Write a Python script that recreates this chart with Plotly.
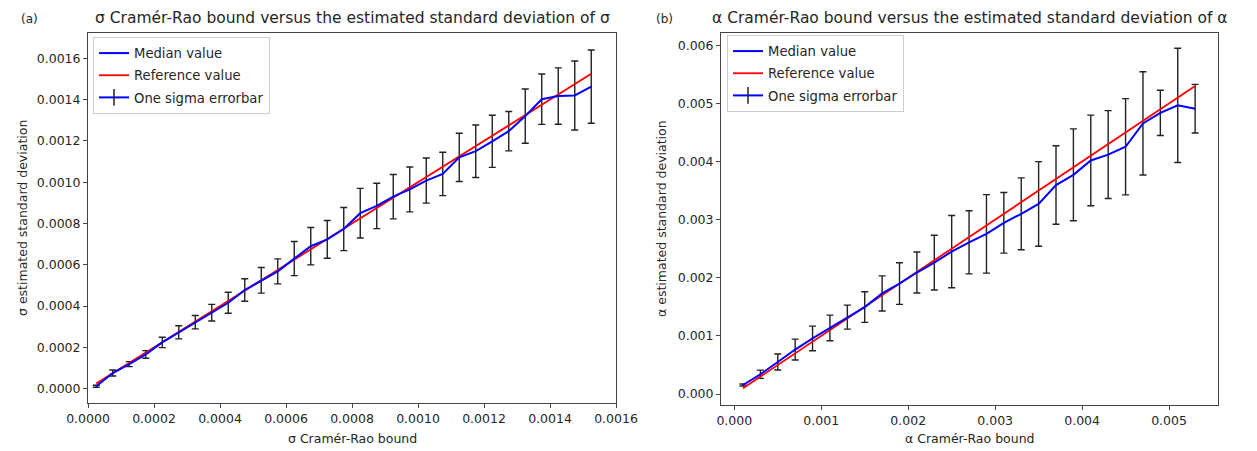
import plotly.graph_objects as go

# ---------------- data ----------------
# Panel (a): sigma
sigma_crb = [0.000025 + 0.00005 * k for k in range(31)]
sigma_median = [0.000012, 0.000076, 0.000119, 0.000166, 0.000224, 0.000273, 0.000322,
                0.000368, 0.000416, 0.000478, 0.000525, 0.000568, 0.000630, 0.000690,
                0.000723, 0.000773, 0.000850, 0.000885, 0.000930, 0.000965, 0.001008,
                0.001040, 0.001120, 0.001150, 0.001198, 0.001247, 0.001320, 0.001402,
                0.001417, 0.001420, 0.001463]
sigma_err = [0.000005, 0.0000146, 0.0000122, 0.0000185, 0.000025, 0.000032, 0.0000325,
             0.0000405, 0.000051, 0.0000545, 0.000062, 0.0000605, 0.0000825, 0.0000905,
             0.0000915, 0.0001045, 0.000120, 0.000110, 0.0001075, 0.0001085, 0.0001095,
             0.000105, 0.000117, 0.000127, 0.000126, 0.0000955, 0.0001315, 0.000122,
             0.0001365, 0.000167, 0.0001775]
sigma_ref = list(sigma_crb)

# Panel (b): alpha
alpha_crb = [0.0001 + 0.0002 * k for k in range(27)]
alpha_median = [0.000155, 0.000340, 0.000550, 0.000765, 0.000956, 0.001137, 0.001323,
                0.001495, 0.001730, 0.001900, 0.002090, 0.002260, 0.002450, 0.002610,
                0.002755, 0.002945, 0.003100, 0.003270, 0.003595, 0.003770, 0.004018,
                0.004118, 0.004253, 0.004655, 0.004835, 0.004965, 0.004908]
alpha_err = [0.000018, 0.000071, 0.000138, 0.000180, 0.000212, 0.000220, 0.000206,
             0.000263, 0.000303, 0.000358, 0.000352, 0.000472, 0.000621, 0.000543,
             0.000675, 0.000521, 0.000618, 0.000727, 0.000676, 0.000790, 0.000779,
             0.000756, 0.000828, 0.000888, 0.000389, 0.000982, 0.000418]
alpha_ref = list(alpha_crb)

sigma_xticks = [0.0002 * i for i in range(9)]
sigma_yticks = [0.0002 * i for i in range(9)]
alpha_xticks = [0.001 * i for i in range(6)]
alpha_yticks = [0.001 * i for i in range(7)]

# ---------------- figure ----------------
W, H = 1257, 451
FONT = "DejaVu Sans"
TXT = "#262626"
BLUE = "#0000ff"
RED = "#ff0000"

fig = go.Figure()


def add_panel(x, med, err, ref, xa, ya, legend):
    # error bars
    fig.add_trace(go.Scatter(
        x=x, y=med, mode="markers", marker=dict(size=0.1, color="rgba(0,0,0,0)"),
        error_y=dict(type="data", array=err, visible=True, color="#222222",
                     thickness=1.4, width=3.5),
        xaxis=xa, yaxis=ya, showlegend=False, hoverinfo="skip"))
    # reference line
    fig.add_trace(go.Scatter(
        x=x, y=ref, mode="lines", line=dict(color=RED, width=1.8),
        name="Reference value", xaxis=xa, yaxis=ya, legend=legend,
        legendgroup=legend + "b", legendrank=2))
    # median line
    fig.add_trace(go.Scatter(
        x=x, y=med, mode="lines", line=dict(color=BLUE, width=2),
        name="Median value", xaxis=xa, yaxis=ya, legend=legend,
        legendgroup=legend + "a", legendrank=1))
    # legend glyph for errorbar
    fig.add_trace(go.Scatter(
        x=[None], y=[None], mode="lines+markers",
        line=dict(color=BLUE, width=2),
        marker=dict(symbol="line-ns-open", size=12, color="#222222",
                    line=dict(color="#222222", width=1.5)),
        name="One sigma errorbar", xaxis=xa, yaxis=ya, legend=legend,
        legendgroup=legend + "c", legendrank=3))


add_panel(sigma_crb, sigma_median, sigma_err, sigma_ref, "x", "y", "legend")
add_panel(alpha_crb, alpha_median, alpha_err, alpha_ref, "x2", "y2", "legend2")

L1, R1 = 88, 616
L2, R2 = 721, 1218
T, B1, B2 = 33, 403, 405


def fx(px):
    return px / W


def fy(py):
    return 1 - py / H


axis_common = dict(showline=True, linecolor="#444444", linewidth=1, mirror=True,
                   ticks="outside", ticklen=4, tickwidth=1, tickcolor="#444444",
                   showgrid=False, zeroline=False, automargin=False,
                   tickfont=dict(family=FONT, size=12.5, color=TXT))

legend_common = dict(bgcolor="rgba(255,255,255,0.85)", bordercolor="#cccccc",
                     borderwidth=1, font=dict(family=FONT, size=13.2, color=TXT),
                     xanchor="left", yanchor="top", traceorder="grouped",
                     tracegroupgap=2, itemwidth=30)

fig.update_layout(
    width=W, height=H,
    margin=dict(l=0, r=0, t=0, b=0, autoexpand=False),
    paper_bgcolor="white", plot_bgcolor="white",
    xaxis=dict(domain=[fx(L1), fx(R1)], range=[0, 0.0016], anchor="y",
               tickvals=sigma_xticks, tickformat=".4f", **axis_common),
    yaxis=dict(domain=[fy(B1), fy(T)], range=[-0.0000693, 0.0017225], anchor="x",
               tickvals=sigma_yticks, tickformat=".4f", **axis_common),
    xaxis2=dict(domain=[fx(L2), fx(R2)], range=[-0.000153, 0.005563], anchor="y2",
                tickvals=alpha_xticks, tickformat=".3f", **axis_common),
    yaxis2=dict(domain=[fy(B2), fy(T)], range=[-0.000189, 0.00621], anchor="x2",
                tickvals=alpha_yticks, tickformat=".3f", **axis_common),
    legend=dict(x=fx(93), y=fy(37), **legend_common),
    legend2=dict(x=fx(727), y=fy(35), **legend_common),
    showlegend=True,
)

ann = []
title_font = dict(family=FONT, size=15.5, color=TXT)
label_font = dict(family=FONT, size=12.5, color=TXT)
ann.append(dict(text="(a)", x=fx(29), y=fy(19), font=dict(family=FONT, size=12, color=TXT)))
ann.append(dict(text="σ Cramér-Rao bound versus the estimated standard deviation of σ",
                x=fx((L1 + R1) / 2), y=fy(18), font=title_font))
ann.append(dict(text="(b)", x=fx(664), y=fy(19), font=dict(family=FONT, size=12, color=TXT)))
ann.append(dict(text="α Cramér-Rao bound versus the estimated standard deviation of α",
                x=fx((L2 + R2) / 2), y=fy(18), font=title_font))
ann.append(dict(text="σ Cramér-Rao bound", x=fx((L1 + R1) / 2), y=fy(438), font=label_font))
ann.append(dict(text="α Cramér-Rao bound", x=fx((L2 + R2) / 2), y=fy(438), font=label_font))
ann.append(dict(text="σ estimated standard deviation", x=fx(22), y=fy((T + B1) / 2),
                textangle=-90, font=label_font))
ann.append(dict(text="α estimated standard deviation", x=fx(661), y=fy((T + B2) / 2),
                textangle=-90, font=label_font))
for a in ann:
    a.update(xref="paper", yref="paper", showarrow=False, xanchor="center", yanchor="middle")
fig.update_layout(annotations=ann)

fig.write_html("out.html")
